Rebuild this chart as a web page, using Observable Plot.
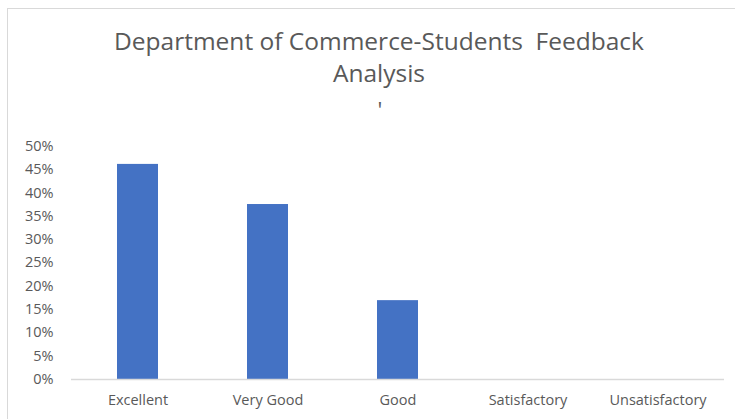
<!DOCTYPE html>
<html>
<head>
<meta charset="utf-8">
<script src="https://cdn.jsdelivr.net/npm/d3@7"></script>
<script src="https://cdn.jsdelivr.net/npm/@observablehq/plot@0.6"></script>
<style>
  html, body { margin: 0; padding: 0; background: #fff; }
  #wrap { position: relative; width: 735px; height: 419px; overflow: hidden; font-family: "Open Sans", sans-serif; }
  #frame { position: absolute; left: 7px; top: 8px; width: 800px; height: 500px; border-left: 1.5px solid #d9d9d9; border-top: 1.5px solid #d9d9d9; box-sizing: border-box; }
  #title { position: absolute; left: 0; top: 25px; width: 758px; text-align: center; color: #595959; font-size: 24.5px; line-height: 32px; }
  #mark { position: absolute; left: 0; top: 98px; width: 760px; text-align: center; color: #595959; font-size: 22px; line-height: 22px; }
  #chart { position: absolute; left: 0; top: 0; }
</style>
</head>
<body>
<div id="wrap">
  <div id="frame"></div>
  <div id="chart"></div>
  <div id="title">Department of Commerce-Students&nbsp; Feedback<br>Analysis</div>
  <div id="mark">'</div>
</div>
<script>
const categories = ["Excellent", "Very Good", "Good", "Satisfactory", "Unsatisfactory"];
const shares = [0.461, 0.375, 0.169, 0, 0];
const yTicks = [0, 0.05, 0.10, 0.15, 0.20, 0.25, 0.30, 0.35, 0.40, 0.45, 0.50];

const data = categories.map((c, i) => ({category: c, share: shares[i]}));

const chart = Plot.plot({
  width: 735,
  height: 419,
  marginLeft: 71,
  marginRight: 11,
  marginTop: 145.7,
  marginBottom: 40,
  style: {fontFamily: "Open Sans, sans-serif", fontSize: "14.5px", color: "#595959", background: "transparent"},
  x: {domain: categories, paddingInner: 0.686, paddingOuter: 0.343, label: null},
  y: {domain: [0, 0.5], label: null},
  marks: [
    Plot.axisY({ticks: yTicks, tickFormat: d3.format(".0%"), tickSize: 0, tickPadding: 18, label: null, fill: "#595959"}),
    Plot.axisX({tickSize: 0, tickPadding: 15, label: null, fill: "#595959"}),
    Plot.barY(data, {x: "category", y: "share", fill: "#4472C4"}),
    Plot.ruleY([0], {stroke: "#d9d9d9", strokeWidth: 1.5})
  ]
});
document.getElementById("chart").appendChild(chart);
</script>
</body>
</html>
